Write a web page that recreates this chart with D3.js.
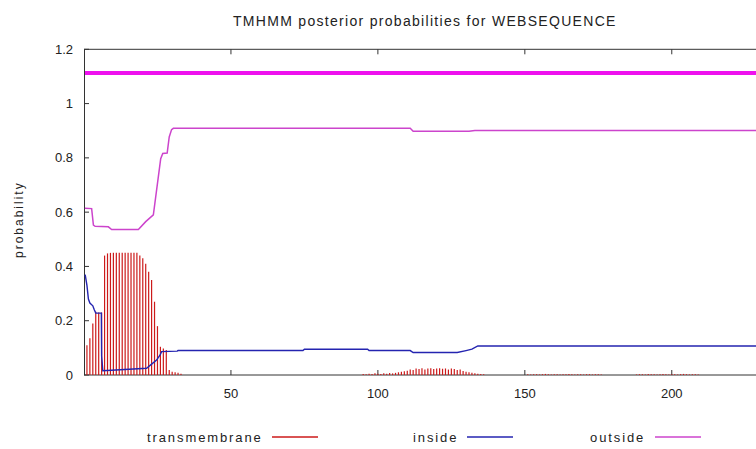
<!DOCTYPE html>
<html>
<head>
<meta charset="utf-8">
<script src="https://cdn.jsdelivr.net/npm/d3@7"></script>
<style>
  body { margin: 0; background: #fff; }
  text { font-family: "Liberation Sans", Arial, sans-serif; fill: #222; }
</style>
</head>
<body>
<svg id="chart" width="756" height="449"></svg>
<script>
// transmembrane probability per residue, cluster starting at residue 1
var tmStart1 = 1;
var tmValues1 = [0.11, 0.135, 0.19, 0.233, 0.23, 0.23, 0.44, 0.448, 0.45, 0.45, 0.45, 0.45,
  0.45, 0.45, 0.45, 0.45, 0.45, 0.45, 0.44, 0.43, 0.41, 0.38, 0.35, 0.27, 0.18, 0.104,
  0.098, 0.092, 0.018, 0.012, 0.01, 0.008, 0.005];
// small bump around residue 95-136
var tmStart2 = 95;
var tmValues2 = [0.004, 0.003, 0.005, 0.004, 0.006, 0.005, 0.004, 0.006, 0.005, 0.007, 0.006,
  0.008, 0.01, 0.012, 0.014, 0.016, 0.02, 0.018, 0.024, 0.022, 0.025, 0.02, 0.024, 0.025,
  0.022, 0.024, 0.025, 0.023, 0.024, 0.02, 0.024, 0.022, 0.018, 0.02, 0.015, 0.012, 0.01,
  0.008, 0.006, 0.005, 0.004, 0.003];
// tiny traces further on
var tmStart3 = 151;
var tmValues3 = [0.003, 0.002, 0.003, 0.003, 0.002, 0.003, 0.004, 0.003, 0.002, 0.003, 0.003,
  0.002, 0.003, 0.003, 0.004, 0.003, 0.002, 0.003, 0.003, 0.002, 0.003, 0.003, 0.002, 0.003,
  0.003, 0.002];
var tmStart4 = 188;
var tmValues4 = [0.002, 0.003, 0.003, 0.002, 0.004, 0.003, 0.003, 0.002, 0.003, 0.004, 0.003,
  0.002, 0.003, 0.003, 0.002, 0.003, 0.004, 0.003, 0.002, 0.003, 0.003, 0.002];

// inside probability (residue, value)
var insidePos = [0.4, 1, 1.5, 2, 3, 3.5, 4, 5.9, 6.0, 6.4, 21.3, 23, 24.7, 25.9, 26.4, 31.7, 32,
  74.5, 75, 96.5, 97, 111, 112, 127, 130, 132, 134, 229];
var insideVal = [0.37, 0.33, 0.28, 0.265, 0.255, 0.24, 0.228, 0.228, 0.07, 0.016, 0.025, 0.04,
  0.055, 0.074, 0.086, 0.088, 0.09, 0.09, 0.095, 0.095, 0.09, 0.09, 0.083, 0.083, 0.09,
  0.095, 0.107, 0.107];

// outside probability (residue, value)
var outsidePos = [0.3, 2.6, 3.2, 3.8, 8.3, 9.4, 18.5, 21, 23.6, 26.1, 26.8, 28.3, 29, 29.8, 30.4,
  111, 112, 131, 133, 229];
var outsideVal = [0.614, 0.613, 0.552, 0.548, 0.546, 0.536, 0.536, 0.565, 0.59, 0.797, 0.816,
  0.818, 0.877, 0.904, 0.909, 0.909, 0.898, 0.898, 0.901, 0.901];

// reference line drawn across the top
var topLineVal = 1.113;

var yTicks = [0, 0.2, 0.4, 0.6, 0.8, 1, 1.2];
var yTickLabels = ["0", "0.2", "0.4", "0.6", "0.8", "1", "1.2"];
var xTicks = [50, 100, 150, 200];

var legendNames = ["transmembrane", "inside", "outside"];
var legendColors = ["#cc1a1a", "#2424b0", "#cc44cc"];

var svg = d3.select("#chart");

var x = d3.scaleLinear().domain([0, 229]).range([84, 757]);
var y = d3.scaleLinear().domain([0, 1.2]).range([375, 49.3]);

function bars(start, vals) {
  return vals.map(function(v, i) { return {r: start + i, v: v}; });
}
var tmData = [].concat(bars(tmStart1, tmValues1), bars(tmStart2, tmValues2),
  bars(tmStart3, tmValues3), bars(tmStart4, tmValues4));

// title
svg.append("text")
  .attr("x", 233).attr("y", 26)
  .style("font-size", "14px")
  .style("letter-spacing", "1.3px")
  .text("TMHMM posterior probabilities for WEBSEQUENCE");

// y label
svg.append("text")
  .attr("transform", "translate(23,258) rotate(-90)")
  .style("font-size", "12px")
  .style("letter-spacing", "2px")
  .text("probability");

// frame
svg.append("line")
  .attr("x1", x(0)).attr("x2", 756).attr("y1", y(1.2)).attr("y2", y(1.2))
  .attr("stroke", "#333").attr("stroke-width", 1);
svg.append("line")
  .attr("x1", x(0)).attr("x2", 756).attr("y1", y(0)).attr("y2", y(0))
  .attr("stroke", "#333").attr("stroke-width", 1);
svg.append("line")
  .attr("x1", x(0) + 0.5).attr("x2", x(0) + 0.5).attr("y1", y(1.2)).attr("y2", y(0))
  .attr("stroke", "#333").attr("stroke-width", 1);

// y ticks
svg.selectAll(".ytick")
  .data(yTicks)
  .enter()
  .append("line")
  .attr("x1", x(0)).attr("x2", x(0) + 5)
  .attr("y1", function(d) { return y(d); })
  .attr("y2", function(d) { return y(d); })
  .attr("stroke", "#333");

svg.selectAll(".ylab")
  .data(yTicks)
  .enter()
  .append("text")
  .attr("x", 73)
  .attr("y", function(d) { return y(d); })
  .attr("dy", "0.35em")
  .attr("text-anchor", "end")
  .style("font-size", "13px")
  .text(function(d, i) { return yTickLabels[i]; });

// x ticks top and bottom
xTicks.forEach(function(t) {
  svg.append("line")
    .attr("x1", x(t)).attr("x2", x(t)).attr("y1", y(0)).attr("y2", y(0) - 5)
    .attr("stroke", "#333");
  svg.append("line")
    .attr("x1", x(t)).attr("x2", x(t)).attr("y1", y(1.2)).attr("y2", y(1.2) + 5)
    .attr("stroke", "#333");
  svg.append("text")
    .attr("x", x(t)).attr("y", 398)
    .attr("text-anchor", "middle")
    .style("font-size", "13px")
    .text(t);
});

// transmembrane impulses
svg.selectAll(".tm")
  .data(tmData)
  .enter()
  .append("line")
  .attr("x1", function(d) { return x(d.r); })
  .attr("x2", function(d) { return x(d.r); })
  .attr("y1", y(0))
  .attr("y2", function(d) { return y(d.v); })
  .attr("stroke", legendColors[0])
  .attr("stroke-width", 1.2);

var line = d3.line()
  .x(function(d) { return x(d[0]); })
  .y(function(d) { return y(d[1]); });

svg.append("path")
  .datum(d3.zip(outsidePos, outsideVal))
  .attr("d", line)
  .attr("fill", "none")
  .attr("stroke", legendColors[2])
  .attr("stroke-width", 1.5);

svg.append("path")
  .datum(d3.zip(insidePos, insideVal))
  .attr("d", line)
  .attr("fill", "none")
  .attr("stroke", legendColors[1])
  .attr("stroke-width", 1.4);

// thick line near the top
svg.append("line")
  .attr("x1", x(0) + 1).attr("x2", 756)
  .attr("y1", y(topLineVal)).attr("y2", y(topLineVal))
  .attr("stroke", "#ee11ee")
  .attr("stroke-width", 4);

// legend
var legendTextLeft = [147, 413, 590];
var legendLineStart = [272, 467, 655];
legendNames.forEach(function(name, i) {
  svg.append("text")
    .attr("x", legendTextLeft[i]).attr("y", 442)
    .style("font-size", "13px")
    .style("letter-spacing", "1.9px")
    .text(name);
  svg.append("line")
    .attr("x1", legendLineStart[i]).attr("x2", legendLineStart[i] + 46)
    .attr("y1", 437).attr("y2", 437)
    .attr("stroke", legendColors[i])
    .attr("stroke-width", 1.5);
});
</script>
</body>
</html>
